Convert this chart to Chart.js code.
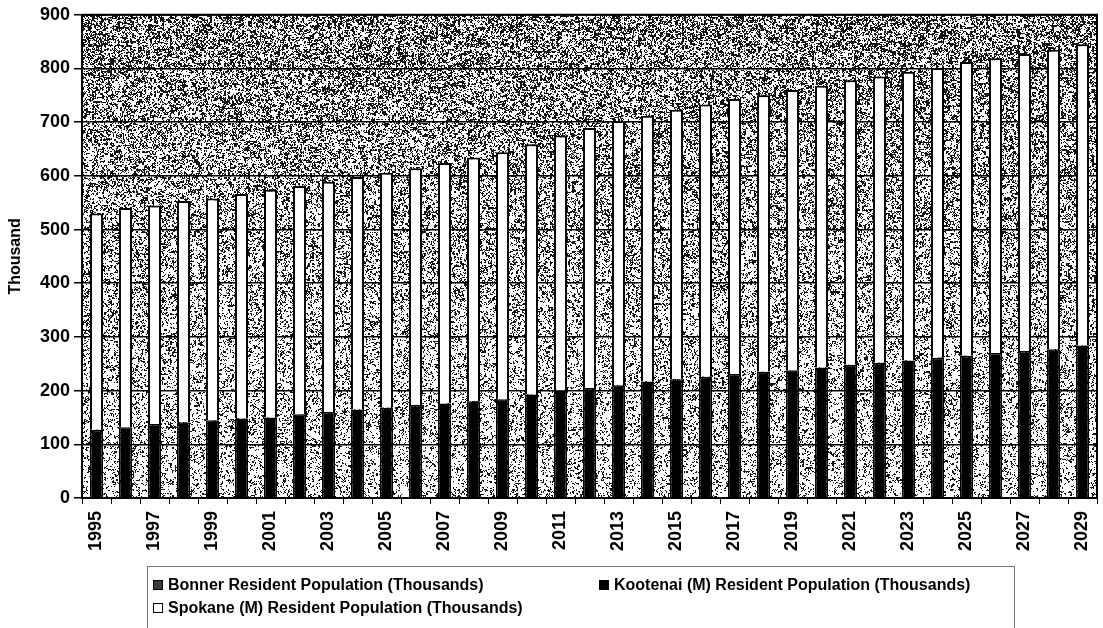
<!DOCTYPE html>
<html>
<head>
<meta charset="utf-8">
<script src="https://cdn.jsdelivr.net/npm/chart.js@4/dist/chart.umd.min.js"></script>
<style>
  html, body { margin: 0; padding: 0; background: #fff; }
  #wrap { position: relative; width: 1103px; height: 628px; }
  #legend {
    position: absolute; left: 147px; top: 566px; width: 868px; height: 70px;
    border: 1px solid #777; border-bottom: none; box-sizing: border-box;
    font: bold 16px "Liberation Sans", Arial, sans-serif; color: #000;
  }
  .item { position: absolute; white-space: nowrap; display: flex; align-items: center; height: 18px; }
  .sw { width: 10px; height: 10px; border: 1px solid #000; box-sizing: border-box; margin-right: 5px; }
</style>
</head>
<body>
<div id="wrap">
  <canvas id="c" width="1103" height="628"></canvas>
  <div id="legend"></div>
</div>
<script>
// Resident population by county, thousands
const years = ['1995','1996','1997','1998','1999','2000','2001','2002','2003','2004',
               '2005','2006','2007','2008','2009','2010','2011','2012','2013','2014',
               '2015','2016','2017','2018','2019','2020','2021','2022','2023','2024',
               '2025','2026','2027','2028','2029'];

const bonner = [0,0,0,0,0,0,0,0,0,0,0,0,0,0,0,0,0,0,0,0,0,0,0,0,0,0,0,0,0,0,0,0,0,0,0];

const kootenai = [127,132,138,141,145,148,150,156,160,165,
                  168,173,176,180,184,193,200,205,210,217,
                  221,226,231,235,238,243,248,252,256,261,
                  265,270,274,277,284];

const spokane = [403,408,407,412,413,418,424,425,429,433,
                 438,441,448,454,460,466,475,484,492,495,
                 502,507,512,515,522,525,530,533,538,540,
                 547,549,553,558,561];

const yTicks = [0,100,200,300,400,500,600,700,800,900];

const FONT = '"Liberation Sans", Arial, sans-serif';

// Stippled plot background: deterministic hashed dot field
function hash2(x, y) {
  let h = Math.imul(x, 374761393) + Math.imul(y, 668265263) | 0;
  h = Math.imul(h ^ (h >>> 13), 1274126177);
  h = h ^ (h >>> 16);
  return (h >>> 0) / 4294967296;
}

const stipple = {
  id: 'stipple',
  beforeDraw(chart) {
    const a = chart.chartArea;
    const ctx = chart.ctx;
    const x0 = Math.round(a.left), y0 = Math.round(a.top);
    const w = Math.round(a.right) - x0, h = Math.round(a.bottom) - y0;
    const img = ctx.createImageData(w, h);
    const d = img.data;
    for (let j = 0; j < h; j++) {
      const t = j / h;
      const dens = 0.50 - 0.18 * t;
      for (let i = 0; i < w; i++) {
        const v = 0.5 * hash2(i >> 1, j >> 1) + 0.5 * hash2(i + 7919, j + 104729);
        const p = (j * w + i) * 4;
        const c = v < dens ? 20 : 255;
        d[p] = c; d[p + 1] = c; d[p + 2] = c; d[p + 3] = 255;
      }
    }
    ctx.putImageData(img, x0, y0);
  },
  afterDraw(chart) {
    const a = chart.chartArea;
    const ctx = chart.ctx;
    ctx.save();
    ctx.strokeStyle = '#000';
    ctx.lineWidth = 2;
    ctx.beginPath();
    ctx.moveTo(a.left, a.top);
    ctx.lineTo(a.right, a.top);
    ctx.lineTo(a.right, a.bottom);
    ctx.stroke();
    ctx.restore();
  }
};

const chart = new Chart(document.getElementById('c'), {
  type: 'bar',
  data: {
    labels: years,
    datasets: [
      { label: 'Bonner Resident Population (Thousands)', data: bonner,
        backgroundColor: '#444', borderColor: '#000', borderWidth: 0 },
      { label: 'Kootenai (M) Resident Population (Thousands)', data: kootenai,
        backgroundColor: '#000', borderColor: '#000', borderWidth: 1.5 },
      { label: 'Spokane (M) Resident Population (Thousands)', data: spokane,
        backgroundColor: '#fff', borderColor: '#000', borderWidth: 2 }
    ]
  },
  options: {
    responsive: false,
    animation: false,
    layout: { padding: { left: 0, top: 14, right: 6, bottom: 68 } },
    plugins: { legend: { display: false }, tooltip: { enabled: false } },
    datasets: { bar: { barPercentage: 0.9, categoryPercentage: 0.5 } },
    scales: {
      x: {
        stacked: true,
        offset: true,
        grid: { offset: true, drawOnChartArea: false, tickLength: 6, tickColor: '#000', lineWidth: 1 },
        border: { color: '#000', width: 2 },
        ticks: {
          autoSkip: false, minRotation: 90, maxRotation: 90, padding: 7, color: '#000',
          font: { family: FONT, size: 18, weight: 'bold' },
          callback: (v, i) => (i % 2 === 0 ? years[i] : '')
        },
        afterFit(s) { s.height = 62; s.paddingLeft = 0; s.paddingRight = 0; }
      },
      y: {
        stacked: true,
        min: yTicks[0], max: yTicks[yTicks.length - 1],
        afterBuildTicks(s) { s.ticks = yTicks.map(v => ({ value: v })); },
        grid: { color: '#000', lineWidth: 1.5, tickLength: 8, tickColor: '#000' },
        border: { color: '#000', width: 2 },
        ticks: { color: '#000', padding: 4, font: { family: FONT, size: 18, weight: 'bold' } },
        title: {
          display: true, text: 'Thousand', color: '#000',
          font: { family: FONT, size: 16, weight: 'bold' }, padding: { top: 6, bottom: 0 }
        },
        afterFit(s) { s.width = 82; }
      }
    }
  },
  plugins: [stipple]
});

// Two-column legend under the plot
const swatches = [
  'background:#3a3a3a;',
  'background:#000;',
  'background:#fff;'
];
const spots = [
  { left: 5, top: 9 },
  { left: 451, top: 9 },
  { left: 5, top: 32 }
];
const legendEl = document.getElementById('legend');
chart.data.datasets.forEach((ds, i) => {
  const it = document.createElement('div');
  it.className = 'item';
  it.style.left = spots[i].left + 'px';
  it.style.top = spots[i].top + 'px';
  const sw = document.createElement('span');
  sw.className = 'sw';
  sw.style.cssText = swatches[i];
  const tx = document.createElement('span');
  tx.textContent = ds.label;
  it.appendChild(sw);
  it.appendChild(tx);
  legendEl.appendChild(it);
});
</script>
</body>
</html>
